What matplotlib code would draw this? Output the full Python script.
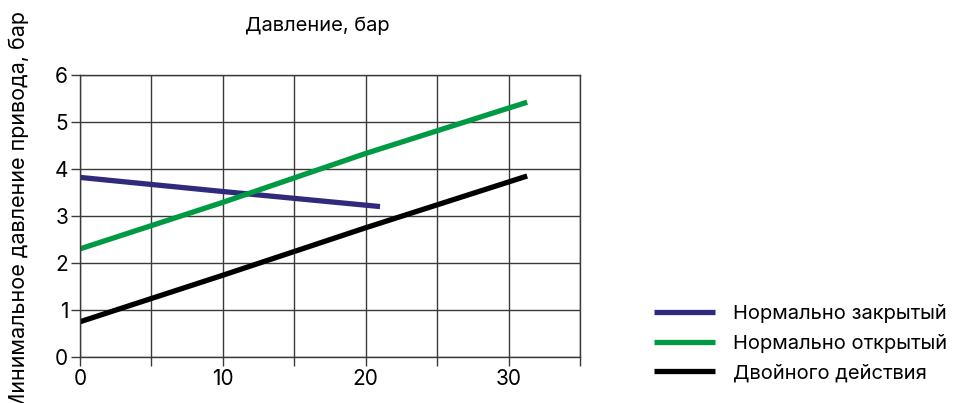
import matplotlib.pyplot as plt

plt.rcParams['font.family'] = ['Inter', 'DejaVu Sans']

# data
closed_x = [0, 10, 21]
closed_y = [3.82, 3.52, 3.2]
open_x = [0, 10, 20, 31.3]
open_y = [2.3, 3.29, 4.33, 5.42]
double_x = [0, 10, 20, 31.3]
double_y = [0.75, 1.74, 2.75, 3.85]

labels = ['Нормально закрытый', 'Нормально открытый', 'Двойного действия']
colors = ['#2f2a7c', '#009a44', '#000000']

fig = plt.figure(figsize=(9.64, 4.03), dpi=100)
ax = fig.add_axes([0.083, 0.1141, 0.5187, 0.7])

ax.plot(closed_x, closed_y, color=colors[0], lw=3.8, label=labels[0], solid_capstyle='butt')
ax.plot(open_x, open_y, color=colors[1], lw=3.8, label=labels[1], solid_capstyle='butt')
ax.plot(double_x, double_y, color=colors[2], lw=3.8, label=labels[2], solid_capstyle='butt')

ax.set_xlim(0, 35)
ax.set_ylim(0, 6)
ax.set_xticks(range(0, 36, 5))
ax.set_xticklabels(['0', '', '10', '', '20', '', '30', ''])
ax.set_yticks(range(0, 7))
ax.grid(True, color='#3a3a3a', lw=1)
for s in ax.spines.values():
    s.set_color('#3a3a3a')
    s.set_linewidth(1)
ax.tick_params(direction='out', length=6.5, width=1, color='#3a3a3a', labelsize=15, pad=2)

fig.text(0.329, 0.936, 'Давление, бар', ha='center', va='center', fontsize=14.5)
# the label is cut at the bottom edge in the reference too
fig.text(0.019, 0.476, 'Минимальное давление привода, бар', rotation=90,
         ha='center', va='center', fontsize=15.5)

fig.legend(loc='center left', bbox_to_anchor=(0.66, 0.149), frameon=False, fontsize=14.5,
           handlelength=3.0, handletextpad=0.9, labelspacing=0.55)

fig.savefig('out.png', dpi=100)
